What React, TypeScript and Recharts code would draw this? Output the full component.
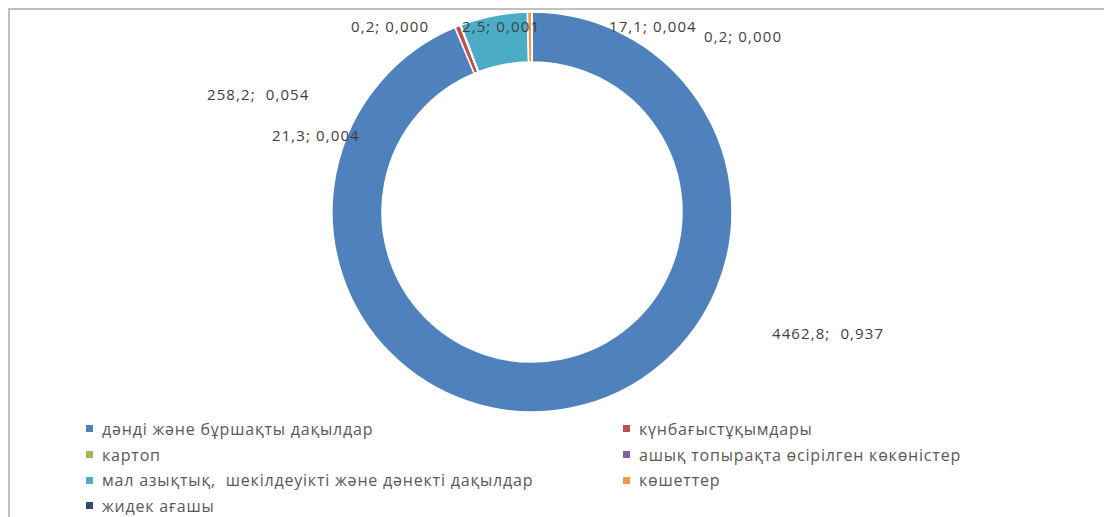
import { Legend, Pie, PieChart, Cell } from 'recharts'

const crops = [
  'дәнді және бұршақты дақылдар',
  'күнбағыстұқымдары',
  'картоп',
  'ашық топырақта өсірілген көкөністер',
  'мал азықтық,  шекілдеуікті және дәнекті дақылдар',
  'көшеттер',
  'жидек ағашы',
]
const values = [4462.8, 21.3, 0.2, 2.5, 258.2, 17.1, 0.2]
const colors = ['#4F81BD', '#C0504D', '#9BBB59', '#8064A2', '#4BACC6', '#F79646', '#2C4D75']

// where each data label sits, relative to the ring centre (left edge, middle)
const labelSpots = [
  { dx: 240, dy: 121 },
  { dx: -260, dy: -77 },
  { dx: -181, dy: -186 },
  { dx: -70, dy: -186 },
  { dx: -325, dy: -118 },
  { dx: 77, dy: -186 },
  { dx: 172, dy: -176 },
]
const wideGap = [true, false, false, false, true, false, false]

const total = values.reduce((a, b) => a + b, 0)
const data = crops.map((name, i) => ({ name, value: values[i] }))

const num = (v: number, d: number) => v.toFixed(d).replace('.', ',')
const font = '"Open Sans", sans-serif'

function renderLabel(p: any) {
  const i = p.index as number
  const s = labelSpots[i]
  const v = values[i]
  return (
    <text
      x={p.cx + s.dx}
      y={p.cy + s.dy}
      dominantBaseline="central"
      textAnchor="start"
      fill="#404040"
      fontSize={15}
      letterSpacing={1.1}
      fontFamily={font}
      style={{ whiteSpace: 'pre' }}
    >
      {`${num(v, 1)};${wideGap[i] ? '  ' : ' '}${num(v / total, 3)}`}
    </text>
  )
}

function LegendBox() {
  return (
    <div
      style={{
        display: 'grid',
        gridTemplateColumns: '537px auto',
        fontFamily: font,
        fontSize: 16,
        letterSpacing: 0.8,
        color: '#595959',
        whiteSpace: 'pre',
      }}
    >
      {crops.map((name, i) => (
        <div key={i} style={{ height: 25.7, display: 'flex', alignItems: 'center' }}>
          <span style={{ width: 7, height: 7, background: colors[i], marginRight: 9, display: 'inline-block' }} />
          {name}
        </div>
      ))}
    </div>
  )
}

export default function App() {
  return (
    <div
      style={{
        width: 1104,
        height: 509,
        borderTop: '2px solid #c0c0c0',
        borderLeft: '2px solid #c0c0c0',
        boxSizing: 'border-box',
        background: '#fff',
        overflow: 'hidden',
      }}
    >
      <PieChart width={1102} height={507} margin={{ top: 0, right: 0, bottom: 0, left: 0 }}>
        <Pie
          data={data}
          dataKey="value"
          nameKey="name"
          cx={522}
          cy={202}
          innerRadius={150}
          outerRadius={200}
          startAngle={90}
          endAngle={-270}
          stroke="#fff"
          strokeWidth={1.5}
          label={renderLabel}
          labelLine={false}
          isAnimationActive={false}
        >
          {data.map((_, i) => (
            <Cell key={i} fill={colors[i]} />
          ))}
        </Pie>
        <Legend
          content={() => <LegendBox />}
          wrapperStyle={{ position: 'absolute', top: 406, left: 76, width: 1000 }}
        />
      </PieChart>
    </div>
  )
}
